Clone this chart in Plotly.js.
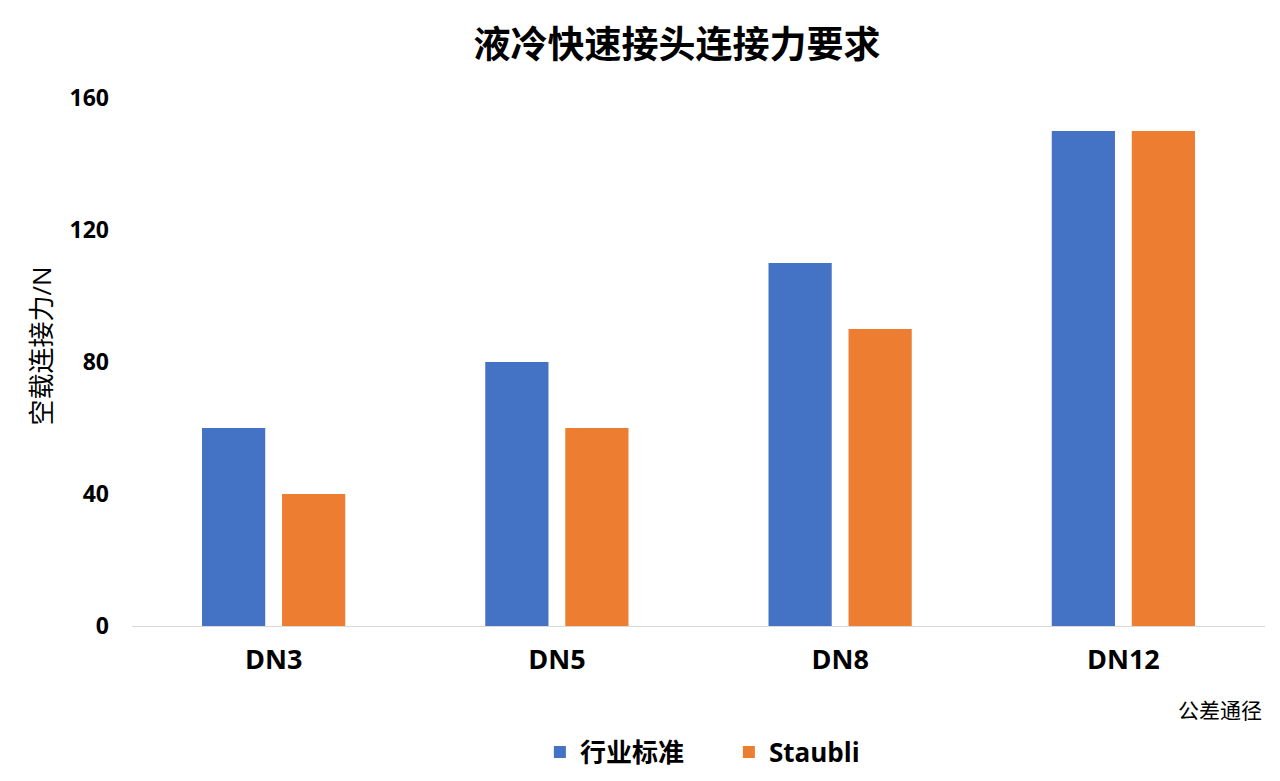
<!DOCTYPE html>
<html>
<head>
<meta charset="utf-8">
<script src="https://cdn.plot.ly/plotly-3.0.1.min.js"></script>
<style>html,body{margin:0;padding:0;background:#fff;}#chart{width:1280px;height:781px;}</style>
</head>
<body>
<div id="chart"></div>
<script>
var categories = ["DN3", "DN5", "DN8", "DN12"];
var industryStandard = [60, 80, 110, 150];
var staubli = [40, 60, 90, 150];
var seriesNames = ["行业标准", "Staubli"];
var yTicks = [0, 40, 80, 120, 160];

var FONT = "'Open Sans', 'Noto Sans CJK SC', sans-serif";
var BOLD = "'Open Sans', 'Noto Sans CJK SC', sans-serif";

var traces = [
  {type: "bar", name: seriesNames[0], x: categories, y: industryStandard, marker: {color: "#4472C4"}},
  {type: "bar", name: seriesNames[1], x: categories, y: staubli, marker: {color: "#ED7D31"}}
];

var layout = {
  width: 1280, height: 781,
  paper_bgcolor: "#fff", plot_bgcolor: "#fff",
  margin: {l: 132, r: 15, t: 98, b: 155, autoexpand: false},
  barmode: "group", bargap: 0.435, bargroupgap: 0.21,
  title: {text: "<b>液冷快速接头连接力要求</b>", font: {family: BOLD, size: 37, color: "#000"}, x: 0.529, xanchor: "center", y: 0.942, yanchor: "middle"},
  xaxis: {
    type: "category", tickfont: {family: BOLD, size: 27, color: "#000", weight: "bold"},
    showline: true, linecolor: "#d9d9d9", linewidth: 1, ticks: "", showgrid: false, zeroline: false,
    ticklabelstandoff: 10
  },
  yaxis: {
    range: [0, 160], tickvals: yTicks, ticktext: yTicks.map(String),
    tickfont: {family: BOLD, size: 23, color: "#000", weight: "bold"},
    showgrid: false, zeroline: false, showline: false, ticks: "", ticklabelstandoff: 22
  },
  showlegend: true,
  legend: {orientation: "h", x: 0.36, xanchor: "left", y: -0.239, yanchor: "middle",
    font: {family: BOLD, size: 26, color: "#000", weight: "bold"}, itemwidth: 30, tracegroupgap: 0,
    entrywidth: 144, entrywidthmode: "pixels"},
  annotations: [
    {text: "空载连接力/N", textangle: -90, xref: "paper", yref: "paper", x: -0.08, y: 0.53, xanchor: "center", yanchor: "middle",
      showarrow: false, font: {family: FONT, size: 26, color: "#000"}},
    {text: "公差通径", xref: "paper", yref: "paper", x: 0.9995, y: -0.159, xanchor: "right", yanchor: "middle",
      showarrow: false, font: {family: FONT, size: 21, color: "#000"}}
  ]
};

Plotly.newPlot("chart", traces, layout, {displayModeBar: false, staticPlot: true});
</script>
</body>
</html>
